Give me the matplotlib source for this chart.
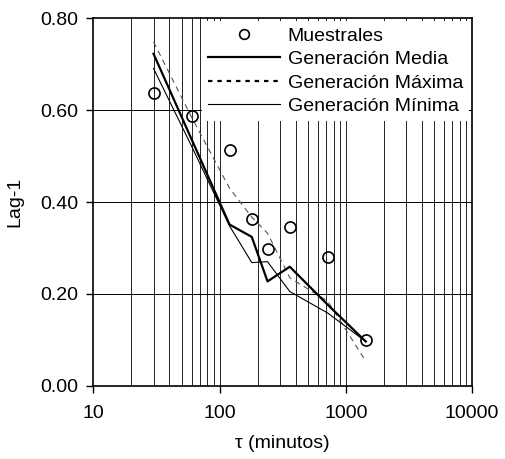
import matplotlib
matplotlib.use("Agg")
import matplotlib.pyplot as plt
from matplotlib.lines import Line2D
from matplotlib.ticker import FixedLocator, FixedFormatter, NullLocator

plt.rcParams["font.family"] = ["Liberation Sans", "DejaVu Sans"]

# data
tau = [30, 60, 120, 180, 240, 360, 720, 1440]
muestrales = [0.638, 0.588, 0.514, 0.363, 0.298, 0.346, 0.281, 0.099]
gen_media = [0.723, 0.537, 0.351, 0.324, 0.227, 0.259, 0.176, 0.096]
gen_maxima = [0.749, 0.585, 0.430, 0.367, 0.332, 0.235, 0.184, 0.053]
gen_minima = [0.691, 0.522, 0.348, 0.268, 0.270, 0.205, 0.158, 0.096]

x_ticks = [10, 100, 1000, 10000]
x_ticklabels = ["10", "100", "1000", "10000"]
y_ticks = [0.0, 0.2, 0.4, 0.6, 0.8]
y_ticklabels = ["0.00", "0.20", "0.40", "0.60", "0.80"]

FS = 14

fig = plt.figure(figsize=(5.06, 4.59), dpi=100)
fig.patch.set_facecolor("white")
ax = fig.add_axes([0.1844, 0.160, 0.7484, 0.7997])

ax.set_xscale("log")
ax.set_xlim(10, 10000)
ax.set_ylim(0, 0.8)

# grid: every log minor position, plus 0.2 steps on y
grid_x = [m * 10 ** d for d in range(1, 4) for m in range(1, 10)][1:]
for gx in grid_x:
    ax.axvline(gx, color="black", linewidth=0.6, zorder=0.5)
for gy in y_ticks[1:-1]:
    ax.axhline(gy, color="black", linewidth=0.7, zorder=0.5)

ax.plot(tau, gen_maxima, color="#555555", linewidth=0.8,
        dashes=(5, 4), zorder=2)
ax.plot(tau, gen_minima, color="black", linewidth=0.8, zorder=3)
ax.plot(tau, gen_media, color="black", linewidth=1.6, zorder=4)
ax.plot(tau, muestrales, linestyle="none", marker="o", markersize=8,
        markerfacecolor="none", markeredgecolor="black",
        markeredgewidth=1.2, zorder=5)

ax.xaxis.set_major_locator(FixedLocator(x_ticks))
ax.xaxis.set_major_formatter(FixedFormatter(x_ticklabels))
ax.xaxis.set_minor_locator(NullLocator())
ax.yaxis.set_major_locator(FixedLocator(y_ticks))
ax.yaxis.set_major_formatter(FixedFormatter(y_ticklabels))
ax.tick_params(direction="out", length=5, width=1, labelsize=FS,
               colors="black")
ax.tick_params(axis="x", pad=9)
ax.tick_params(axis="y", pad=6)

for spine in ax.spines.values():
    spine.set_linewidth(1.2)
    spine.set_color("black")

ax.set_xlabel("\u03c4 (minutos)", fontsize=FS, labelpad=9)
ax.set_ylabel("Lag-1", fontsize=FS, labelpad=12)

handles = [
    Line2D([], [], linestyle="none", marker="o", markersize=7,
           markerfacecolor="none", markeredgecolor="black",
           markeredgewidth=1.2),
    Line2D([], [], color="black", linewidth=1.6),
    Line2D([], [], color="black", linewidth=1.6, dashes=(2, 2.2)),
    Line2D([], [], color="black", linewidth=0.8),
]
labels = ["Muestrales", "Generación Media", "Generación Máxima",
          "Generación Mínima"]
leg = ax.legend(handles, labels, loc="upper right", bbox_to_anchor=(1, 1),
                fontsize=FS, frameon=True, fancybox=False, framealpha=1,
                facecolor="white", edgecolor="none", handlelength=3.7,
                handletextpad=0.4, labelspacing=0.3, borderpad=0.3,
                borderaxespad=0.15)
leg.set_zorder(6)

fig.savefig("out.png", dpi=100, facecolor="white")
